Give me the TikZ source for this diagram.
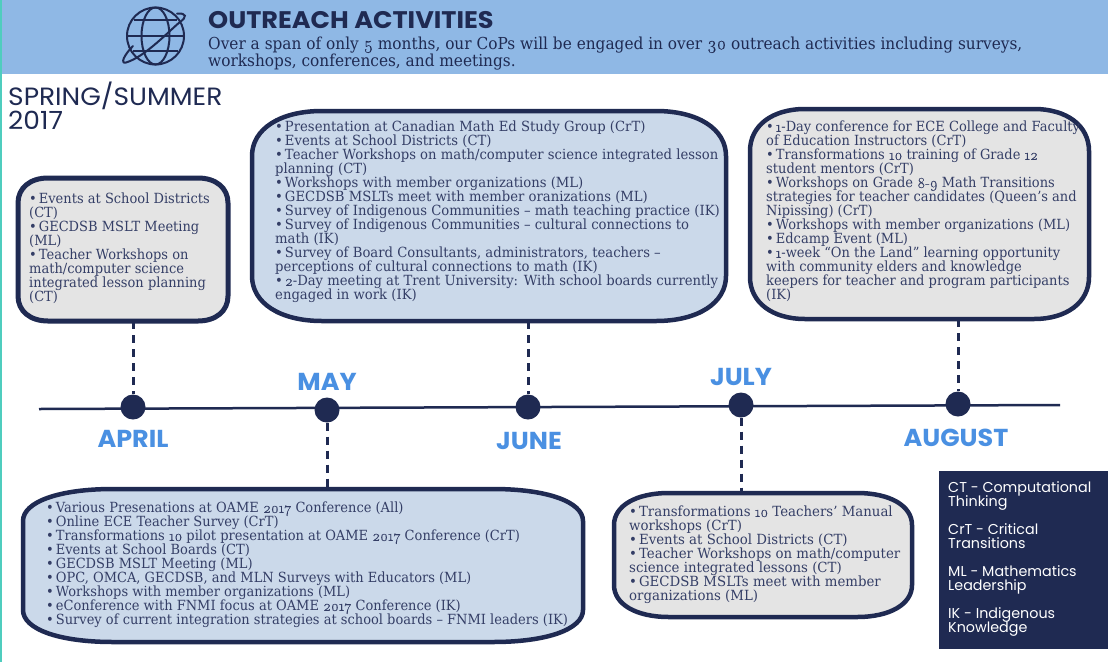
\documentclass[tikz,border=0pt]{standalone}
\usepackage{fontspec}
\usetikzlibrary{calc}
\setmainfont{Liberation Serif}
\lineskiplimit=-20pt
\newfontfamily\bodyf{DejaVu Serif}[FakeStretch=0.93]
\newfontfamily\bodyb{DejaVu Serif}[FakeStretch=0.943]
\newfontfamily\bodyc{DejaVu Serif}[FakeStretch=0.952]
\newfontfamily\headf{Poppins}
\newfontfamily\monthf{Poppins}[FakeStretch=1.04]
\newfontfamily\titlef{Poppins}[FakeStretch=1.065]
\newfontfamily\seasonf{Poppins}[FakeStretch=1.06]
\newfontfamily\oldn{Latin Modern Roman}[Numbers=OldStyle,FakeBold=0.3]
\newcommand\od[1]{{\oldn\fontsize{15}{14}\selectfont #1}}
\newcommand\bl{•\hspace{2pt}}
\definecolor{navy}{HTML}{1F2A52}
\definecolor{bodytext}{HTML}{343E66}
\definecolor{band}{HTML}{8FB8E5}
\definecolor{teal}{HTML}{4FCDBE}
\definecolor{bluefill}{HTML}{CBD9EA}
\definecolor{greyfill}{HTML}{E4E4E4}
\definecolor{month}{HTML}{4A90E2}
\newcommand\bubble[5]{%
  \draw[line width=#5pt,draw=navy,fill=#4]
    ($(#1.north west)+(#2,0)$) -- ($(#1.north east)+(-#2,0)$)
    .. controls ($(#1.north east)+(-0.4*#2,0)$) and ($(#1.north east)+(0,0.4*#3)$) .. ($(#1.north east)+(0,#3)$)
    -- ($(#1.south east)+(0,-#3)$)
    .. controls ($(#1.south east)+(0,-0.4*#3)$) and ($(#1.south east)+(-0.4*#2,0)$) .. ($(#1.south east)+(-#2,0)$)
    -- ($(#1.south west)+(#2,0)$)
    .. controls ($(#1.south west)+(0.4*#2,0)$) and ($(#1.south west)+(0,-0.4*#3)$) .. ($(#1.south west)+(0,-#3)$)
    -- ($(#1.north west)+(0,#3)$)
    .. controls ($(#1.north west)+(0,0.4*#3)$) and ($(#1.north west)+(0.4*#2,0)$) .. ($(#1.north west)+(#2,0)$) -- cycle;}
\tikzset{
  frame/.style={inner sep=0pt,outer sep=0pt,rectangle},
  boxtext/.style={anchor=north west,inner sep=0pt,align=left,text=bodytext,
    font=\bodyf\fontsize{14}{14}\selectfont},
  dashline/.style={draw=navy,line width=3pt,dash pattern=on 8pt off 6pt},
  dot/.style={circle,fill=navy,minimum size=25pt,inner sep=0pt},
  monthlabel/.style={text=month,inner sep=0pt,font=\monthf\bfseries\fontsize{24.5}{24}\selectfont},
  legendtext/.style={anchor=north west,inner sep=0pt,align=left,text=white,
    font=\headf\fontsize{14.3}{14}\selectfont},
  globe/.style={draw=navy,line width=2pt}
}
\begin{document}
\begin{tikzpicture}[x=1pt,y=-1pt]
\useasboundingbox (0,0) rectangle (1108,662);
\fill[white] (0,0) rectangle (1108,662);
\fill[teal] (0,0) rectangle (2,662);
\fill[band] (2,0) rectangle (1108,74);
% globe icon
\draw[globe] (155.5,36) circle[radius=28.5];
\draw[globe] (155.5,36) ellipse[x radius=14,y radius=28.5];
\draw[globe] (134,20) -- (177,20) (127,36) -- (184,36) (133,50.5) -- (178,50.5);
\draw[globe,line cap=round] (133,46) .. controls (124,55) and (120,64) .. (126,62.5)
  .. controls (145,57) and (170,30) .. (180,22)
  .. controls (187,17) and (187,13) .. (177,13.5);
% heading
\node[anchor=base west,inner sep=0pt,text=navy,font=\titlef\bfseries\fontsize{24}{24}\selectfont] (title) at (208,28) {OUTREACH ACTIVITIES};
\node[anchor=north west,inner sep=0pt,align=left,text=navy,font=\bodyf\fontsize{16.5}{17}\selectfont] (sub) at (208,36.5)
  {Over a span of only {\oldn\fontsize{18}{17}\selectfont 5} months, our CoPs will be engaged in over {\oldn\fontsize{18}{17}\selectfont 30} outreach activities including surveys,\\workshops, conferences, and meetings.};
\node[anchor=north west,inner sep=0pt,align=left,text=navy,font=\seasonf\fontsize{25}{24}\selectfont] (season) at (8,82) {SPRING/SUMMER\\2017};
% timeline
\coordinate (tl) at (39,409);
\coordinate (tr) at (1060,405);
\draw[navy,line width=2.5pt] (tl) -- (tr);
\node[dot] (apr) at (133,407) {};
\node[dot] (may) at (327,410) {};
\node[dot] (jun) at (528,407) {};
\node[dot] (jul) at (741,405) {};
\node[dot] (aug) at (958,404) {};
\node[monthlabel] (laprl) at (133,439) {APRIL};
\node[monthlabel] (lmay) at (327,382) {MAY};
\node[monthlabel] (ljun) at (529,441) {JUNE};
\node[monthlabel] (ljul) at (741,377) {JULY};
\node[monthlabel] (laug) at (956,438) {AUGUST};
% frames
\node[frame,minimum width=210pt,minimum height=143pt] (b1) at (123,249.5) {};
\node[frame,minimum width=474pt,minimum height=210pt] (b2) at (489,216) {};
\node[frame,minimum width=339pt,minimum height=210pt] (b3) at (919.5,214) {};
\node[frame,minimum width=560pt,minimum height=153pt] (b4) at (303,565.5) {};
\node[frame,minimum width=298pt,minimum height=124pt] (b5) at (763,555) {};
% connectors
\draw[dashline] (b1.south -| apr) -- (apr);
\draw[dashline] (may) -- (may |- b4.north);
\draw[dashline] (b2.south -| jun) -- (jun);
\draw[dashline] (jul) -- (jul |- b5.north);
\draw[dashline] (b3.south -| aug) -- (aug);
% bubbles
\bubble{b1}{30}{25}{greyfill}{5}
\bubble{b2}{70}{45}{bluefill}{4.5}
\bubble{b3}{55}{42}{greyfill}{4.5}
\bubble{b4}{90}{32}{bluefill}{4.5}
\bubble{b5}{55}{32}{greyfill}{4.5}
\node[boxtext] (t1) at (29,193) {\bl Events at School Districts\\(CT)\\\bl GECDSB MSLT Meeting\\(ML)\\\bl Teacher Workshops on\\math/computer science\\integrated lesson planning\\(CT)};
\node[boxtext,font=\bodyb\fontsize{14}{14}\selectfont] (t2) at (275,121) {\bl Presentation at Canadian Math Ed Study Group (CrT)\\\bl Events at School Districts (CT)\\\bl Teacher Workshops on math/computer science integrated lesson\\planning (CT)\\\bl Workshops with member organizations (ML)\\\bl GECDSB MSLTs meet with member oranizations (ML)\\\bl Survey of Indigenous Communities – math teaching practice (IK)\\\bl Survey of Indigenous Communities – cultural connections to\\math (IK)\\\bl Survey of Board Consultants, administrators, teachers –\\perceptions of cultural connections to math (IK)\\\bl \od{2}-Day meeting at Trent University: With school boards currently\\engaged in work (IK)};
\node[boxtext] (t3) at (766,121) {\bl \od{1}-Day conference for ECE College and Faculty\\of Education Instructors (CrT)\\\bl Transformations \od{10} training of Grade \od{12}\\student mentors (CrT)\\\bl Workshops on Grade \od{8-9} Math Transitions\\strategies for teacher candidates (Queen’s and\\Nipissing) (CrT)\\\bl Workshops with member organizations (ML)\\\bl Edcamp Event (ML)\\\bl \od{1}-week “On the Land” learning opportunity\\with community elders and knowledge\\keepers for teacher and program participants\\(IK)};
\node[boxtext] (t4) at (46,502) {\bl Various Presenations at OAME \od{2017} Conference (All)\\\bl Online ECE Teacher Survey (CrT)\\\bl Transformations \od{10} pilot presentation at OAME \od{2017} Conference (CrT)\\\bl Events at School Boards (CT)\\\bl GECDSB MSLT Meeting (ML)\\\bl OPC, OMCA, GECDSB, and MLN Surveys with Educators (ML)\\\bl Workshops with member organizations (ML)\\\bl eConference with FNMI focus at OAME \od{2017} Conference (IK)\\\bl Survey of current integration strategies at school boards – FNMI leaders (IK)};
\node[boxtext,font=\bodyc\fontsize{14}{14}\selectfont] (t5) at (629,506) {\bl Transformations \od{10} Teachers’ Manual\\workshops (CrT)\\\bl Events at School Districts (CT)\\\bl Teacher Workshops on math/computer\\science integrated lessons (CT)\\\bl GECDSB MSLTs meet with member\\organizations (ML)};
% legend
\fill[navy] (939,471) rectangle (1108,649);
\node[legendtext] (l1) at (948,481.5) {CT - Computational\\Thinking};
\node[legendtext] (l2) at (948,523.5) {CrT - Critical\\Transitions};
\node[legendtext] (l3) at (948,565.5) {ML - Mathematics\\Leadership};
\node[legendtext] (l4) at (948,607.5) {IK - Indigenous\\Knowledge};
\end{tikzpicture}
\end{document}
